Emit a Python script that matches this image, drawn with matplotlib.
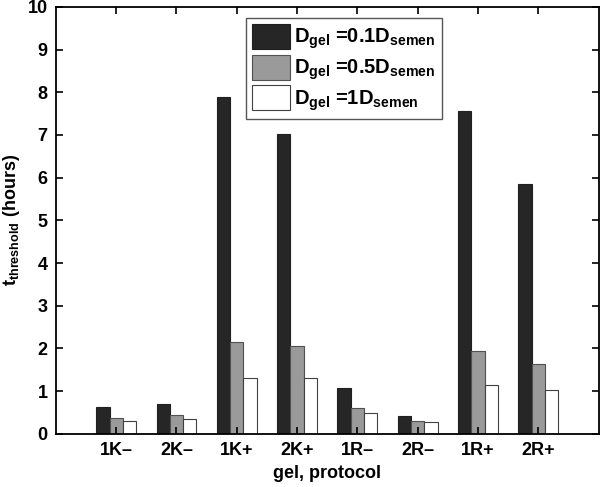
import matplotlib
matplotlib.use("Agg")
import matplotlib.pyplot as plt
import numpy as np

plt.rcParams['font.family'] = ['Liberation Sans', 'DejaVu Sans']
plt.rcParams['font.weight'] = 'bold'
plt.rcParams['mathtext.fontset'] = 'custom'
plt.rcParams['mathtext.rm'] = 'Liberation Sans:bold'
plt.rcParams['mathtext.bf'] = 'Liberation Sans:bold'
plt.rcParams['mathtext.it'] = 'Liberation Sans:bold'

categories = ['1K\u2013', '2K\u2013', '1K+', '2K+', '1R\u2013', '2R\u2013', '1R+', '2R+']
d01 = [0.62, 0.71, 7.9, 7.02, 1.07, 0.41, 7.55, 5.85]
d05 = [0.38, 0.45, 2.15, 2.07, 0.61, 0.30, 1.93, 1.63]
d1 = [0.30, 0.35, 1.31, 1.31, 0.48, 0.27, 1.15, 1.03]
labels = [r'$\mathrm{D_{gel}}$ =0.1$\mathrm{D_{semen}}$',
          r'$\mathrm{D_{gel}}$ =0.5$\mathrm{D_{semen}}$',
          r'$\mathrm{D_{gel}}$ =1$\mathrm{D_{semen}}$']

fig = plt.figure(figsize=(6.01, 4.87), dpi=100)
ax = fig.add_axes([0.093, 0.109, 0.903, 0.877])

x = np.arange(1, len(categories) + 1)
w = 0.22
ax.bar(x - w, d01, w, color='#262626', edgecolor='#202020', linewidth=0.8, label=labels[0])
ax.bar(x, d05, w, color='#9a9a9a', edgecolor='#505050', linewidth=0.8, label=labels[1])
ax.bar(x + w, d1, w, color='white', edgecolor='#404040', linewidth=0.8, label=labels[2])

ax.set_xlim(0, 9)
ax.set_ylim(0, 10)
ax.set_xticks(x)
ax.set_xticklabels(categories)
ax.set_yticks(range(0, 11))
ax.tick_params(direction='in', top=True, right=True, labelsize=13, length=5, width=1.2, pad=6)
for s in ax.spines.values():
    s.set_linewidth(1.3)
ax.set_xlabel('gel, protocol', fontsize=13, fontweight='bold', labelpad=4)
ax.set_ylabel(r'$\mathrm{t_{threshold}}$ (hours)', fontsize=13, fontweight='bold', labelpad=4)

leg = ax.legend(loc='upper center', bbox_to_anchor=(0.531, 0.974), fontsize=14.5,
                fancybox=False, edgecolor='#555555', framealpha=1,
                handlelength=1.9, handleheight=1.55, borderpad=0.3, labelspacing=0.15,
                handletextpad=0.2, borderaxespad=0)
leg.get_frame().set_linewidth(1.0)

fig.savefig('out.png', dpi=100)
